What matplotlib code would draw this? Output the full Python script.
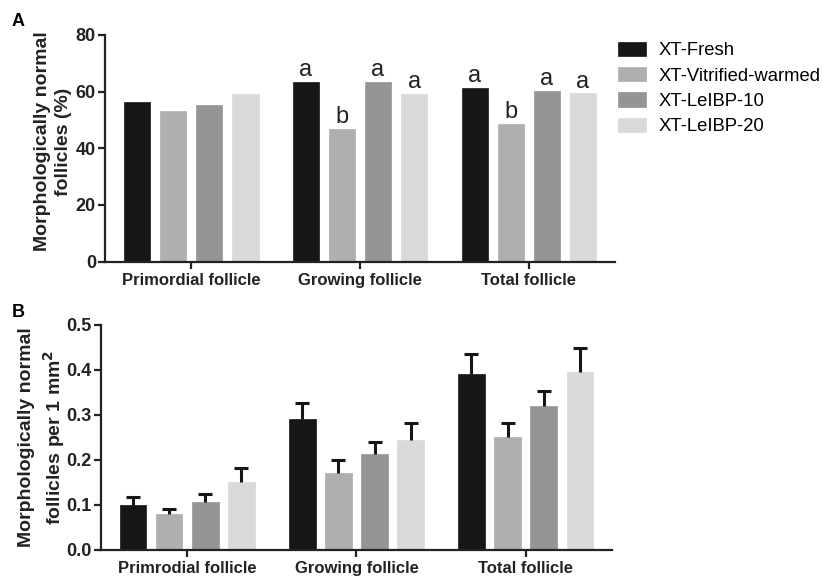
import numpy as np
import matplotlib
matplotlib.use('Agg')
import matplotlib.pyplot as plt

plt.rcParams['font.family'] = ['Liberation Sans', 'DejaVu Sans']

###DATA
groups = ['XT-Fresh', 'XT-Vitrified-warmed', 'XT-LeIBP-10', 'XT-LeIBP-20']
colors = ['#161616', '#afafaf', '#959595', '#d9d9d9']

cats_a = ['Primordial follicle', 'Growing follicle', 'Total follicle']
# % morphologically normal, rows = groups, cols = categories
pct_fresh = [56.3, 63.5, 61.4]
pct_vitri = [53.3, 46.8, 48.6]
pct_leibp10 = [55.4, 63.5, 60.4]
pct_leibp20 = [59.0, 59.3, 59.4]
letters_fresh = ['', 'a', 'a']
letters_vitri = ['', 'b', 'b']
letters_leibp10 = ['', 'a', 'a']
letters_leibp20 = ['', 'a', 'a']

cats_b = ['Primrodial follicle', 'Growing follicle', 'Total follicle']
dens_fresh = [0.100, 0.290, 0.390]
dens_vitri = [0.079, 0.171, 0.250]
dens_leibp10 = [0.106, 0.214, 0.319]
dens_leibp20 = [0.152, 0.245, 0.396]
sem_fresh = [0.018, 0.036, 0.046]
sem_vitri = [0.012, 0.029, 0.033]
sem_leibp10 = [0.018, 0.026, 0.035]
sem_leibp20 = [0.030, 0.038, 0.053]

pct = [pct_fresh, pct_vitri, pct_leibp10, pct_leibp20]
letters = [letters_fresh, letters_vitri, letters_leibp10, letters_leibp20]
dens = [dens_fresh, dens_vitri, dens_leibp10, dens_leibp20]
sems = [sem_fresh, sem_vitri, sem_leibp10, sem_leibp20]

###LAYOUT
fig = plt.figure(figsize=(8.23, 5.77), dpi=100)
ax_a = fig.add_axes([0.1276, 0.5465, 0.6197, 0.3929])
ax_b = fig.add_axes([0.1227, 0.0468, 0.6209, 0.3900])

x = np.arange(3)
step = 0.2136
width = 0.157
offsets = (np.arange(4) - 1.5) * step


def style_axis(ax):
    for s in ['top', 'right']:
        ax.spines[s].set_visible(False)
    for s in ['left', 'bottom']:
        ax.spines[s].set_linewidth(1.6)
        ax.spines[s].set_color('#222222')
    ax.tick_params(axis='both', width=1.6, length=5, color='#222222')
    ax.tick_params(axis='y', labelsize=13, pad=1.5)
    ax.tick_params(axis='x', labelsize=12, pad=3)
    for lab in ax.get_xticklabels() + ax.get_yticklabels():
        lab.set_fontweight('bold')
        lab.set_color('#222222')
    ax.set_xlim(-0.51, 2.51)


###PANEL A
for i in range(4):
    bars = ax_a.bar(x + offsets[i], pct[i], width, color=colors[i], label=groups[i],
                    edgecolor=colors[i], linewidth=0.5)
    for j, b in enumerate(bars):
        if letters[i][j]:
            ax_a.text(b.get_x() + b.get_width() / 2, b.get_height() + 0.2, letters[i][j],
                      ha='center', va='bottom', fontsize=17, color='#222222')
ax_a.set_ylim(0, 80)
ax_a.set_yticks([0, 20, 40, 60, 80])
ax_a.set_xticks(x)
ax_a.set_xticklabels(cats_a)
style_axis(ax_a)
ax_a.set_ylabel('Morphologically normal\nfollicles (%)', fontsize=14, fontweight='bold',
                color='#222222', linespacing=1.3)
ax_a.yaxis.set_label_coords(-0.064, 0.53)

###PANEL B
for i in range(4):
    ax_b.bar(x + offsets[i], dens[i], width, color=colors[i],
             edgecolor=colors[i], linewidth=0.5)
    eb = ax_b.errorbar(x + offsets[i], dens[i], yerr=[np.zeros(3), sems[i]], fmt='none',
                       ecolor='#161616', elinewidth=2.2, capsize=5, capthick=2.2)
    eb[1][0].set_visible(False)
ax_b.set_ylim(0, 0.5)
ax_b.set_yticks([0.0, 0.1, 0.2, 0.3, 0.4, 0.5])
ax_b.set_yticklabels(['0.0', '0.1', '0.2', '0.3', '0.4', '0.5'])
ax_b.set_xticks(x)
ax_b.set_xticklabels(cats_b)
style_axis(ax_b)
ax_b.set_ylabel('Morphologically normal\nfollicles per 1 mm$^{\\mathbf{2}}$', fontsize=14,
                fontweight='bold', color='#222222', linespacing=1.3)
ax_b.yaxis.set_label_coords(-0.066, 0.5)

###PANEL LETTERS
fig.text(0.014, 0.963, 'A', fontsize=13, fontweight='bold', va='center')
fig.text(0.014, 0.459, 'B', fontsize=13, fontweight='bold', va='center')

###LEGEND
handles, labels = ax_a.get_legend_handles_labels()
fig.legend(handles, labels, loc='upper left', bbox_to_anchor=(618 / 823, 1 - 42 / 577),
           frameon=False, fontsize=13.3, handlelength=1.5, handleheight=0.8,
           handletextpad=0.7, labelspacing=0.42, borderpad=0, borderaxespad=0)

plt.savefig('out.png', dpi=100)
